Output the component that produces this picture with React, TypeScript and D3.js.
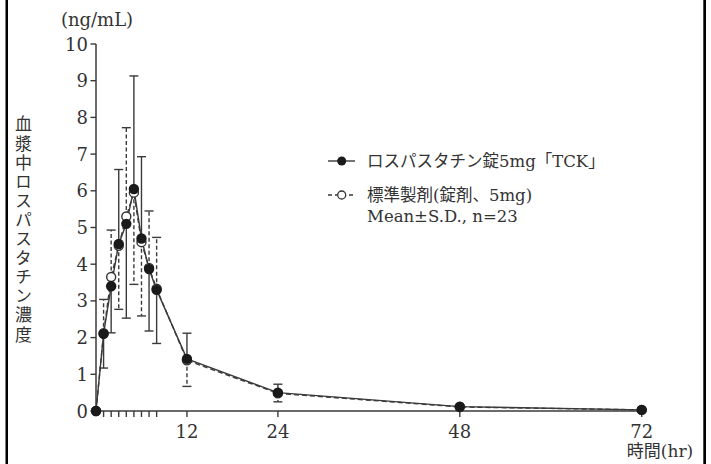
import React from "react";
import * as d3 from "d3";

const times = [0, 1, 2, 3, 4, 5, 6, 7, 8, 12, 24, 48, 72];
const tckMean = [0, 2.1, 3.4, 4.55, 5.1, 6.05, 4.7, 3.87, 3.3, 1.42, 0.5, 0.12, 0.03];
const tckSD = [0, 0.93, 1.27, 2.03, 2.57, 3.08, 2.23, 1.69, 1.46, 0.7, 0.23, 0, 0];
const refMean = [0, 2.12, 3.65, 4.5, 5.3, 5.95, 4.6, 3.9, 3.33, 1.38, 0.48, 0.11, 0.03];
const refSD = [0, 0.92, 1.28, 1.73, 2.42, 2.5, 2.01, 1.55, 1.4, 0.71, 0.23, 0, 0];

const yTicks = [0, 1, 2, 3, 4, 5, 6, 7, 8, 9, 10];
const xMajorTicks = [12, 24, 48, 72];
const xMinorTicks = [1, 2, 3, 4, 5, 6, 7, 8];

const yTitle = "血漿中ロスパスタチン濃度";
const yUnit = "(ng/mL)";
const xTitle = "時間(hr)";
const legend1 = "ロスパスタチン錠5mg「TCK」";
const legend2 = "標準製剤(錠剤、5mg)";
const legend3 = "Mean±S.D., n=23";

const W = 711;
const H = 464;
const FONT = "'DejaVu Serif', 'Noto Sans CJK JP', serif";
const INK = "#333";
const LINE = "#3a3a3a";

export default function App() {
  const x = d3.scaleLinear().domain([0, 72]).range([96, 641.7]);
  const y = d3.scaleLinear().domain([0, 10]).range([411, 44]);

  const lineGen = d3
    .line<number>()
    .x((_, i) => x(times[i]))
    .y((d) => y(d));

  const capW = 4.5;

  const bars: React.ReactNode[] = [];
  times.forEach((t, i) => {
    const tckUp = tckMean[i] >= refMean[i];
    const items = [
      { m: tckMean[i], sd: tckSD[i], up: tckUp, dash: undefined as string | undefined },
      { m: refMean[i], sd: refSD[i], up: !tckUp, dash: "4 2.5" },
    ];
    items.forEach((it, k) => {
      if (it.sd <= 0) return;
      const end = it.up ? it.m + it.sd : it.m - it.sd;
      const cx = x(t);
      bars.push(
        <g key={`b${i}-${k}`} stroke={LINE} strokeWidth={1.4} fill="none">
          <line x1={cx} x2={cx} y1={y(it.m)} y2={y(end)} strokeDasharray={it.dash} />
          <line x1={cx - capW} x2={cx + capW} y1={y(end)} y2={y(end)} />
        </g>
      );
    });
  });

  return (
    <svg
      width={W}
      height={H}
      style={{ position: "absolute", left: 0, top: 0, background: "#fff" }}
      fontFamily={FONT}
    >
      <rect x={0} y={0} width={W} height={H} fill="#fff" />
      {/* frame */}
      <rect x={5.5} y={0} width={2.5} height={H} fill="#000" />
      <rect x={703.3} y={0} width={2.7} height={H} fill="#000" />

      {/* y axis */}
      <line x1={x(0)} x2={x(0)} y1={y(10)} y2={y(0)} stroke={LINE} strokeWidth={1.5} />
      {yTicks.map((v) => (
        <g key={`yt${v}`}>
          <line x1={x(0) - 5.5} x2={x(0)} y1={y(v)} y2={y(v)} stroke={LINE} strokeWidth={1.4} />
          <text
            x={x(0) - 8}
            y={y(v)}
            textAnchor="end"
            dominantBaseline="central"
            fontSize={18}
            fill={INK}
          >
            {v}
          </text>
        </g>
      ))}
      <text x={97} y={19} textAnchor="middle" dominantBaseline="central" fontSize={18} fill={INK}>
        {yUnit}
      </text>

      {/* x axis */}
      <line x1={x(0)} x2={x(72)} y1={y(0)} y2={y(0)} stroke={LINE} strokeWidth={1.5} />
      {xMinorTicks.map((t) => (
        <line key={`xm${t}`} x1={x(t)} x2={x(t)} y1={y(0)} y2={y(0) + 6} stroke={LINE} strokeWidth={1.4} />
      ))}
      {xMajorTicks.map((t) => (
        <g key={`xt${t}`}>
          <line x1={x(t)} x2={x(t)} y1={y(0)} y2={y(0) + 6} stroke={LINE} strokeWidth={1.4} />
          <text x={x(t)} y={431} textAnchor="middle" dominantBaseline="central" fontSize={18} fill={INK}>
            {t}
          </text>
        </g>
      ))}
      <text x={660} y={451} textAnchor="middle" dominantBaseline="central" fontSize={17} fill={INK}>
        {xTitle}
      </text>

      {/* y title, vertical */}
      <text
        x={23.5}
        y={115.5}
        fontSize={17}
        fill={INK}
        fontFamily="'Noto Sans CJK JP', sans-serif"
        style={{ writingMode: "vertical-rl", letterSpacing: "2.1px" }}
      >
        {yTitle}
      </text>

      {/* lines */}
      <path d={lineGen(refMean) || ""} fill="none" stroke={LINE} strokeWidth={1.4} strokeDasharray="5 3" />
      <path d={lineGen(tckMean) || ""} fill="none" stroke={LINE} strokeWidth={1.4} />

      {bars}

      {/* markers */}
      {refMean.map((v, i) => (
        <circle key={`ro${i}`} cx={x(times[i])} cy={y(v)} r={4.5} fill="#fff" stroke={INK} strokeWidth={1.4} />
      ))}
      {tckMean.map((v, i) => (
        <circle key={`tf${i}`} cx={x(times[i])} cy={y(v)} r={5.2} fill="#1a1a1a" />
      ))}

      {/* legend */}
      <g>
        <line x1={328} x2={355} y1={161} y2={161} stroke={LINE} strokeWidth={1.4} />
        <circle cx={341.7} cy={161} r={4.5} fill="#1a1a1a" />
        <text x={367} y={161} dominantBaseline="central" fontSize={16.5} fill={INK}>
          {legend1}
        </text>
        <line x1={328} x2={355} y1={195} y2={195} stroke={LINE} strokeWidth={1.4} strokeDasharray="4 3" />
        <circle cx={341.7} cy={195} r={4} fill="#fff" stroke={INK} strokeWidth={1.3} />
        <text x={367} y={195} dominantBaseline="central" fontSize={16.5} fill={INK}>
          {legend2}
        </text>
        <text x={367} y={216} dominantBaseline="central" fontSize={16.5} fill={INK}>
          {legend3}
        </text>
      </g>
    </svg>
  );
}
